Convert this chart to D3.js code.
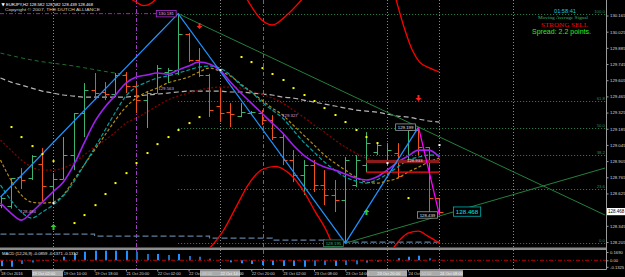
<!DOCTYPE html>
<html>
<head>
<meta charset="utf-8">
<script src="https://cdn.jsdelivr.net/npm/d3@7"></script>
<style>
  body { margin: 0; background: #000; }
  svg { display: block; font-family: "Liberation Sans", Arial, sans-serif; }
</style>
</head>
<body>
<div id="chart"></div>
<script>
// bar data (EURJPY H2), bar index 0..42
var opens  = [128.524,128.516,128.767,128.758,128.879,128.689,128.749,128.957,129.321,129.520,129.502,129.485,129.650,129.554,129.433,129.494,129.676,129.693,130.005,129.780,129.650,129.381,129.330,129.295,129.321,129.321,129.260,129.113,128.914,128.784,128.870,128.697,128.611,128.567,128.697,128.870,128.983,128.914,128.974,128.914,129.173,129.026,128.582];
var highs  = [128.602,128.758,128.844,128.957,129.018,128.801,129.113,129.321,129.580,129.667,129.589,129.667,129.676,129.580,129.502,129.736,129.710,130.181,130.013,129.883,129.660,129.537,129.407,129.407,129.338,129.347,129.303,129.148,129.000,128.914,128.914,128.827,128.741,128.940,128.957,129.156,129.070,129.061,129.061,129.190,129.199,129.026,128.582];
var lows   = [128.498,128.494,128.663,128.741,128.550,128.541,128.749,128.827,129.113,129.433,129.433,129.459,129.494,129.321,129.191,129.494,129.580,129.650,129.762,129.632,129.286,129.243,129.199,129.286,129.303,129.217,129.087,128.870,128.723,128.611,128.637,128.524,128.464,128.195,128.680,128.810,128.957,128.870,128.758,128.896,128.957,128.464,128.439];
var closes = [128.585,128.758,128.741,128.948,128.689,128.749,128.957,129.321,129.520,129.494,129.485,129.650,129.554,129.433,129.494,129.710,129.693,130.005,129.780,129.650,129.347,129.321,129.312,129.330,129.330,129.260,129.113,128.914,128.784,128.870,128.697,128.611,128.567,128.914,128.914,129.061,129.044,129.000,128.775,129.173,129.026,128.585,128.468];

// moving averages
var maViolet = [128.541,128.455,128.394,128.464,128.550,128.637,128.723,128.870,129.061,129.243,129.373,129.476,129.580,129.632,129.650,129.667,129.658,129.693,129.728,129.762,129.745,129.693,129.589,129.494,129.407,129.321,129.234,129.148,129.044,128.957,128.896,128.853,128.827,128.793,128.758,128.741,128.767,128.827,128.896,128.948,129.000,129.000,128.940];
var maTeal = [128.698,128.568,128.464,128.412,128.464,128.524,128.602,128.723,128.871,129.018,129.174,129.329,129.468,129.546,129.589,129.624,129.641,129.667,129.693,129.719,129.728,129.710,129.650,129.563,129.503,129.416,129.347,129.278,129.174,129.070,128.983,128.897,128.827,128.767,128.732,128.715,128.741,128.793,128.853,128.914,128.940,128.957,128.957];
var maOlive = [128.914,128.741,128.611,128.550,128.542,128.550,128.611,128.741,128.871,129.000,129.131,129.260,129.373,129.451,129.503,129.537,129.581,129.607,129.633,129.676,129.710,129.684,129.641,129.572,129.503,129.433,129.364,129.304,129.217,129.131,129.044,128.957,128.888,128.827,128.767,128.723,128.715,128.732,128.758,128.810,128.853,128.897,128.931];
var maDarkRed = [129.087,129.000,128.914,128.853,128.827,128.827,128.845,128.888,128.957,129.027,129.087,129.156,129.234,129.278,129.329,129.382,129.433,129.468,129.494,129.520,129.537,129.546,129.546,129.537,129.511,129.485,129.451,129.407,129.347,129.286,129.217,129.156,129.087,129.027,128.975,128.931,128.905,128.897,128.897,128.897,128.905,128.914,128.914];
var maGrey = [129.624,129.589,129.563,129.537,129.511,129.494,129.477,129.468,129.459,129.459,129.459,129.459,129.459,129.468,129.477,129.485,129.494,129.503,129.511,129.511,129.511,129.511,129.503,129.503,129.494,129.485,129.477,129.459,129.451,129.433,129.416,129.399,129.382,129.364,129.347,129.338,129.329,129.312,129.295,129.286,129.269,129.252,129.243];
var maSlate = [[0,128.273],[9,128.256],[20,128.239],[26,128.221],[31,128.204],[42,128.195]];
var maGreen = [[0,129.840],[3,129.780],[7,129.728],[11,129.667],[12,129.655]];

// envelope / band pieces [bar, price]
var bandUpper = [
  [[12.3,130.32],[13,130.28],[13.7,130.25],[14.4,130.27],[15,130.32]],
  [[23.5,130.32],[25,130.126],[26,130.083],[27.4,130.169],[29,130.32]],
  [[37.8,130.32],[38.7,130.039],[39.4,129.866],[40.1,129.762],[41.1,129.710],[42,129.676]]
];
var bandLower = [
  [[19.8,128.13],[21.3,128.30],[22.5,128.50],[23.7,128.70],[25,128.83],[26.3,128.86],[27.6,128.80],[28.9,128.66],[30.1,128.47],[31.2,128.30],[32,128.13]],
  [[37.4,128.13],[38.2,128.221],[39,128.282],[40,128.299],[40.9,128.256],[42,128.195]]
];

// zigzag
var zigIdx = [0, 17, 33, 40];
var zigVals = [128.594, 130.181, 128.195, 129.199];
var zigLast = [[40,129.199],[42,128.439]];

// trend lines
var trendDown = [[17,130.181],[57.85,128.438]];
var trendUp = [[33,128.195],[57.85,128.845]];
var trendShort = [[12.5,129.76],[17,130.181]];

// fibo levels
var fibLabels = ["100.0","61.8","50.0","38.2","23.6","0.0"];
var fibLevels = [130.181,129.423,129.188,128.954,128.664,128.195];

// parabolic sar dots
var sarIdx = [1,2,3,4,5,7,8,9,10,11,12,13,14,15,16,17,18,19,23,24,25,26,27,28,29,30,31,32,33,34,35,36,39];
var sarVals = [129.200,129.113,129.035,128.966,128.905,128.369,128.438,128.524,128.620,128.715,128.801,128.888,128.975,129.052,129.113,129.174,129.234,129.286,129.806,129.762,129.710,129.659,129.607,129.537,129.477,129.425,129.364,129.304,129.243,129.174,129.113,129.061,128.585];

// signal arrows and dots
var buyArrows = [[5,128.334],[35,128.464]];
var sellArrows = [[19,130.074],[40,129.451]];
var whiteDots = [[5,128.542],[21,129.693],[37,128.888],[42,129.044]];

// horizontal levels at the right
var levelDark = [35, 42, 128.901];
var levelRed = [35, 42, 128.810];

// vertical lines
var gridV = [5, 21, 37, 42, 49.05];
var purpleV = [13, 25.1];

// MACD histogram
var macd = [-0.120,-0.131,-0.075,-0.045,-0.015,0.010,0.073,0.149,0.176,0.196,0.196,0.196,0.196,0.176,0.129,0.129,0.108,0.129,0.088,0.073,0.033,0.005,-0.041,-0.061,-0.075,-0.096,-0.096,-0.116,-0.116,-0.131,-0.116,-0.096,-0.116,-0.096,-0.082,-0.049,-0.029,-0.004,0.041,0.073,0.094,0.041,-0.005];
var macdTicks = [0.1690, 0.00, -0.1325];
var macdTickText = ["0.1690", "0.00", "-0.1325"];

// axis ticks (128.485 sits under the live price tag)
var priceTicks = [130.165,130.025,129.885,129.745,129.605,129.465,129.325,129.185,129.045,128.905,128.765,128.625,128.485,128.345,128.205];
var hiddenTick = 128.485;
var timeIdx = [0,3,6,9,12,15,18,21,24,27,30,33,36,39,42];
var timeLabels = ["18 Oct 2016","19 Oct 02:00","19 Oct 10:00","19 Oct 18:00","21 Oct 20:00","22 Oct 02:00","22 Oct 08:00","22 Oct 14:00","22 Oct 20:00","23 Oct 02:00","23 Oct 08:00","23 Oct 14:00","23 Oct 20:00","24 Oct 02:00","24 Oct 08:00"];
// labels that sit in the grey vertical-line boxes
var boxedLabels = [3, 21, 36, 42];

//Width and height
var w = 625;
var h = 277;
var plotRight = 606;
var mainBottom = 247;

var svg = d3.select('#chart')
            .append('svg')
            .attr('width', w)
            .attr('height', h);

svg.append('rect').attr('width', w).attr('height', h).attr('fill', '#000');

svg.append('clipPath').attr('id', 'mainClip')
   .append('rect').attr('x', 0).attr('y', 0).attr('width', plotRight).attr('height', mainBottom);

//scales
var x = d3.scaleLinear().domain([0, 42]).range([0.5, 439.4]);
var y = d3.scaleLinear().domain([priceTicks[priceTicks.length - 1], priceTicks[0]]).range([242, 15.5]);
var ym = d3.scaleLinear().domain([-0.1325, 0.169]).range([266.8, 252]);

var px = function (i) { return Math.round(x(i)) + 0.5; };
var line = d3.line().x(function (d) { return x(d[0]); }).y(function (d) { return y(d[1]); });
var series = function (arr) { return arr.map(function (v, i) { return [i, v]; }); };

var main = svg.append('g').attr('clip-path', 'url(#mainClip)');

//vertical separators
main.selectAll('.gv').data(gridV).enter().append('line')
  .attr('x1', px).attr('x2', px).attr('y1', 0).attr('y2', mainBottom)
  .attr('stroke', '#8a8a8a').attr('stroke-dasharray', '1,2').attr('stroke-width', 1);
main.selectAll('.pv').data(purpleV).enter().append('line')
  .attr('x1', px).attr('x2', px).attr('y1', 0).attr('y2', mainBottom)
  .attr('stroke', '#a040c0').attr('stroke-dasharray', '4,2,1,2').attr('stroke-width', 1);

//fibo levels
main.selectAll('.fib').data(fibLevels).enter().append('line')
  .attr('x1', x(17)).attr('x2', plotRight)
  .attr('y1', function (d) { return Math.round(y(d)) + 0.5; })
  .attr('y2', function (d) { return Math.round(y(d)) + 0.5; })
  .attr('stroke', '#2e8b57').attr('stroke-dasharray', '1,2');
main.selectAll('.fibt').data(fibLevels).enter().append('text')
  .attr('x', plotRight - 1).attr('y', function (d) { return y(d) - 1; })
  .attr('text-anchor', 'end').attr('font-size', 4.3).attr('fill', '#2e8b57')
  .text(function (d, i) { return fibLabels[i]; });

//top level line left of the peak
main.append('line')
  .attr('x1', 0).attr('x2', x(15.3)).attr('y1', y(130.181)).attr('y2', y(130.181))
  .attr('stroke', '#a020c0').attr('stroke-dasharray', '4,2,1,2');

//slow moving averages
main.append('path').datum(maSlate).attr('d', line.curve(d3.curveStepAfter))
  .attr('fill', 'none').attr('stroke', '#5f7f9f').attr('stroke-dasharray', '6,3').attr('stroke-width', 1.2);
line.curve(d3.curveMonotoneX);
main.append('path').datum(maGreen).attr('d', line)
  .attr('fill', 'none').attr('stroke', '#1f6f2f').attr('stroke-dasharray', '4,3').attr('stroke-width', 1);
main.append('path').datum(series(maGrey)).attr('d', line)
  .attr('fill', 'none').attr('stroke', '#b4b4b4').attr('stroke-dasharray', '5,3').attr('stroke-width', 1.2);
main.append('path').datum(series(maDarkRed)).attr('d', line)
  .attr('fill', 'none').attr('stroke', '#8b0000').attr('stroke-dasharray', '2,2').attr('stroke-width', 1.2);

//price bars
var bars = main.selectAll('.bar').data(opens).enter().append('g')
  .attr('stroke', function (d, i) { return closes[i] >= opens[i] ? '#3cb371' : '#f0501e'; })
  .attr('stroke-width', 1);
bars.append('line')
  .attr('x1', function (d, i) { return px(i); }).attr('x2', function (d, i) { return px(i); })
  .attr('y1', function (d, i) { return y(highs[i]); }).attr('y2', function (d, i) { return y(lows[i]); });
bars.append('line')
  .attr('x1', function (d, i) { return px(i) - 4; }).attr('x2', function (d, i) { return px(i); })
  .attr('y1', function (d, i) { return Math.round(y(opens[i])) + 0.5; })
  .attr('y2', function (d, i) { return Math.round(y(opens[i])) + 0.5; });
bars.append('line')
  .attr('x1', function (d, i) { return px(i); }).attr('x2', function (d, i) { return px(i) + 4; })
  .attr('y1', function (d, i) { return Math.round(y(closes[i])) + 0.5; })
  .attr('y2', function (d, i) { return Math.round(y(closes[i])) + 0.5; });

//faster moving averages
main.append('path').datum(series(maOlive)).attr('d', line)
  .attr('fill', 'none').attr('stroke', '#b08c10').attr('stroke-dasharray', '3,2').attr('stroke-width', 1.2);
main.append('path').datum(series(maTeal)).attr('d', line)
  .attr('fill', 'none').attr('stroke', '#00a0a0').attr('stroke-dasharray', '4,2').attr('stroke-width', 1.2);
main.append('path').datum(series(maViolet)).attr('d', line)
  .attr('fill', 'none').attr('stroke', '#a020f0').attr('stroke-width', 1.6);

//right side levels
main.append('line').attr('x1', x(levelDark[0])).attr('x2', x(levelDark[1]))
  .attr('y1', y(levelDark[2])).attr('y2', y(levelDark[2]))
  .attr('stroke', '#8b1a1a').attr('stroke-width', 3);
main.append('line').attr('x1', x(levelRed[0])).attr('x2', x(levelRed[1]))
  .attr('y1', y(levelRed[2])).attr('y2', y(levelRed[2]))
  .attr('stroke', '#ff1010').attr('stroke-width', 1.3);

//trend lines
line.curve(d3.curveLinear);
[trendDown, trendUp, trendShort].forEach(function (t) {
  main.append('path').datum(t).attr('d', line)
    .attr('fill', 'none').attr('stroke', '#24803c').attr('stroke-width', 1);
});

//zigzag
var zig = zigIdx.map(function (d, i) { return [d, zigVals[i]]; });
main.append('path').datum(zig).attr('d', line)
  .attr('fill', 'none').attr('stroke', '#1e90ff').attr('stroke-width', 1.3);
main.append('path').datum(zigLast).attr('d', line)
  .attr('fill', 'none').attr('stroke', '#ff00ff').attr('stroke-width', 1.3);

//bands
line.curve(d3.curveMonotoneX);
bandUpper.concat(bandLower).forEach(function (b) {
  main.append('path').datum(b).attr('d', line)
    .attr('fill', 'none').attr('stroke', '#ff0000').attr('stroke-width', 1.3);
});

//sar dots
main.selectAll('.sar').data(sarIdx).enter().append('rect')
  .attr('x', function (d) { return px(d) - 1; })
  .attr('y', function (d, i) { return y(sarVals[i]) - 1; })
  .attr('width', 2).attr('height', 2).attr('fill', '#ffff00');

//arrows
main.selectAll('.buy').data(buyArrows).enter().append('path')
  .attr('d', function (d) {
    var cx = px(d[0]), cy = y(d[1]);
    return 'M' + cx + ',' + (cy - 3) + 'L' + (cx + 3) + ',' + cy + 'L' + (cx + 1) + ',' + cy +
           'L' + (cx + 1) + ',' + (cy + 3) + 'L' + (cx - 1) + ',' + (cy + 3) + 'L' + (cx - 1) + ',' + cy +
           'L' + (cx - 3) + ',' + cy + 'Z';
  })
  .attr('fill', '#32cd32');
main.selectAll('.sell').data(sellArrows).enter().append('path')
  .attr('d', function (d) {
    var cx = px(d[0]), cy = y(d[1]);
    return 'M' + cx + ',' + (cy + 3) + 'L' + (cx + 3) + ',' + cy + 'L' + (cx + 1) + ',' + cy +
           'L' + (cx + 1) + ',' + (cy - 3) + 'L' + (cx - 1) + ',' + (cy - 3) + 'L' + (cx - 1) + ',' + cy +
           'L' + (cx - 3) + ',' + cy + 'Z';
  })
  .attr('fill', '#ff2020');
main.selectAll('.wd').data(whiteDots).enter().append('rect')
  .attr('x', function (d) { return px(d[0]) - 1; }).attr('y', function (d) { return y(d[1]) - 1; })
  .attr('width', 2).attr('height', 2).attr('fill', '#ffffff');

//price tags on the chart
function plainTag(i, p, txt, color) {
  main.append('text').attr('x', x(i)).attr('y', y(p) + 4.5)
    .attr('font-size', 4.3).attr('fill', color).text(txt);
}
function boxTag(xEnd, p, txt, border, color, fs, anchorStart) {
  var wBox = txt.length * fs * 0.56 + 3;
  var x0 = anchorStart ? xEnd : xEnd - wBox;
  var cy = y(p);
  main.append('rect').attr('x', x0).attr('y', cy - fs * 0.75).attr('width', wBox).attr('height', fs * 1.5)
    .attr('fill', '#000').attr('stroke', border).attr('stroke-width', 0.8);
  main.append('text').attr('x', x0 + wBox / 2).attr('y', cy + fs * 0.36)
    .attr('text-anchor', 'middle').attr('font-size', fs).attr('fill', color).text(txt);
}
plainTag(1.9, 128.494, '128.494', '#dda0dd');
plainTag(15.1, 129.563, '129.563', '#dda0dd');
plainTag(26.95, 129.327, '129.327', '#dda0dd');
plainTag(38.9, 128.933, '128.933', '#e0e0e0');
boxTag(x(17) - 2, 130.181, '130.181', '#b030d0', '#e0b0ff', 4.3);
boxTag(x(40) - 3, 129.199, '129.199', '#9a9a9a', '#e0e0e0', 4.3);
boxTag(x(42) - 2, 128.439, '128.439', '#9a9a9a', '#e0e0e0', 4.3);
boxTag(x(33) - 2, 128.195, '128.195', '#2e8b57', '#3cb371', 4.3);
boxTag(x(42) + 14, 128.468, '128.468', '#00b0b0', '#00e5ee', 6.2, true);

//header text
svg.append('text').attr('x', 1.5).attr('y', 6).attr('font-size', 4.2).attr('fill', '#fff')
  .attr('font-family', 'DejaVu Sans').text('▼');
svg.append('text').attr('x', 6).attr('y', 6).attr('font-size', 4.2).attr('fill', '#fff')
  .attr('textLength', 87).attr('lengthAdjust', 'spacingAndGlyphs')
  .text('EURJPY,H2  128.582 128.582 128.439 128.468');
svg.append('text').attr('x', 5).attr('y', 10.5).attr('font-size', 4.2).attr('fill', '#d0d0d0')
  .attr('textLength', 95).attr('lengthAdjust', 'spacingAndGlyphs')
  .text('Copyright © 2007, THE DUTCH ALLIANCE');

//signal panel
var info = [
  {t: '01:58:41', x: 554, w: 22, y: 11, fs: 6, c: '#19c6d6', f: 'Liberation Sans'},
  {t: 'Moving Average Signal', x: 538, w: 50, y: 17, fs: 5, c: '#3cb371', f: 'Liberation Serif'},
  {t: 'STRONG SELL', x: 541, w: 47, y: 24.3, fs: 6.6, c: '#ff0000', f: 'Liberation Serif'},
  {t: 'Spread: 2.2 points.', x: 532, w: 59, y: 31.7, fs: 6.6, c: '#22f022', f: 'Liberation Sans'}
];
svg.selectAll('.info').data(info).enter().append('text')
  .attr('x', function (d) { return d.x; })
  .attr('y', function (d) { return d.y + d.fs * 0.35; })
  .attr('font-size', function (d) { return d.fs; })
  .attr('font-family', function (d) { return d.f; })
  .attr('fill', function (d) { return d.c; })
  .attr('textLength', function (d) { return d.w; })
  .attr('lengthAdjust', 'spacingAndGlyphs')
  .text(function (d) { return d.t; });

//panel separator
svg.append('rect').attr('x', 0).attr('y', 247.5).attr('width', plotRight).attr('height', 2.5).attr('fill', '#8c8c8c');

//MACD panel
svg.selectAll('.gvm').data(gridV).enter().append('line')
  .attr('x1', px).attr('x2', px).attr('y1', 250).attr('y2', 269)
  .attr('stroke', '#8a8a8a').attr('stroke-dasharray', '1,2');
svg.selectAll('.pvm').data(purpleV).enter().append('line')
  .attr('x1', px).attr('x2', px).attr('y1', 250).attr('y2', 269)
  .attr('stroke', '#a040c0').attr('stroke-dasharray', '4,2,1,2');
svg.selectAll('.hist').data(macd).enter().append('rect')
  .attr('x', function (d, i) { return Math.round(x(i)); })
  .attr('y', function (d) { return Math.min(ym(d), ym(0)); })
  .attr('width', 2)
  .attr('height', function (d) { return Math.abs(ym(d) - ym(0)); })
  .attr('fill', function (d, i) { return i > 0 && Math.abs(d) < Math.abs(macd[i - 1]) ? '#1a6fc0' : '#1e90ff'; });
svg.append('line').attr('x1', 0).attr('x2', plotRight).attr('y1', ym(0)).attr('y2', ym(0))
  .attr('stroke', '#c00000').attr('stroke-dasharray', '4,2,1,2');
svg.append('text').attr('x', 2).attr('y', 255).attr('font-size', 4.2).attr('fill', '#e0e0e0')
  .attr('textLength', 76).attr('lengthAdjust', 'spacingAndGlyphs')
  .text('MACD (12,26,9) -0.0859 -0.1371 -0.1312');

//frame lines
svg.append('line').attr('x1', plotRight + 0.5).attr('x2', plotRight + 0.5).attr('y1', 0).attr('y2', 269.5)
  .attr('stroke', '#9a9a9a');
svg.append('line').attr('x1', 0).attr('x2', plotRight + 0.5).attr('y1', 269.5).attr('y2', 269.5)
  .attr('stroke', '#9a9a9a');

//price axis
var yAxis = svg.append('g').attr('transform', 'translate(' + (plotRight + 0.5) + ',0)')
  .call(d3.axisRight(y).tickValues(priceTicks)
    .tickFormat(function (d) { return d === hiddenTick ? '' : d3.format('.3f')(d); })
    .tickSize(2).tickPadding(1.5));
yAxis.select('.domain').remove();
yAxis.selectAll('line').attr('stroke', '#9a9a9a');
yAxis.selectAll('text').attr('font-size', 4.3).attr('fill', '#d8d8d8').attr('font-family', 'Liberation Sans');

//current price tag on the axis
svg.append('rect').attr('x', plotRight + 1).attr('y', y(128.468) - 3.6).attr('width', 18).attr('height', 7.2).attr('fill', '#fff');
svg.append('text').attr('x', plotRight + 2).attr('y', y(128.468) + 1.6).attr('font-size', 4.5).attr('fill', '#000')
  .text('128.468');

//macd axis
var mAxis = svg.append('g').attr('transform', 'translate(' + (plotRight + 0.5) + ',0)')
  .call(d3.axisRight(ym).tickValues(macdTicks).tickFormat(function (d, i) { return macdTickText[i]; }).tickSize(2).tickPadding(1.5));
mAxis.select('.domain').remove();
mAxis.selectAll('line').attr('stroke', '#9a9a9a');
mAxis.selectAll('text').attr('font-size', 4.2).attr('fill', '#d8d8d8').attr('font-family', 'Liberation Sans');

//grey boxes of the vertical lines on the time axis (drawn below the labels)
var boxLeft = [32, 200, 367, 420];
var boxWidth = [31, 40, 40, 43];
svg.selectAll('.vbox').data(boxLeft).enter().append('rect')
  .attr('x', function (d) { return d; }).attr('y', 270.2)
  .attr('width', function (d, i) { return boxWidth[i]; }).attr('height', 6.5)
  .attr('fill', '#ababab');

//time axis
var xAxis = svg.append('g').attr('transform', 'translate(0,269.5)')
  .call(d3.axisBottom(x).tickValues(timeIdx).tickFormat(function (d, i) { return timeLabels[i]; }).tickSize(2));
xAxis.select('.domain').remove();
xAxis.selectAll('line').attr('stroke', '#9a9a9a');
xAxis.selectAll('text').attr('font-size', 4).attr('text-anchor', 'start')
  .attr('fill', function (d) { return boxedLabels.indexOf(d) >= 0 ? '#f8f8f8' : '#d8d8d8'; })
  .attr('y', 2.2).attr('dy', '0.71em').attr('font-family', 'Liberation Sans');
</script>
</body>
</html>
